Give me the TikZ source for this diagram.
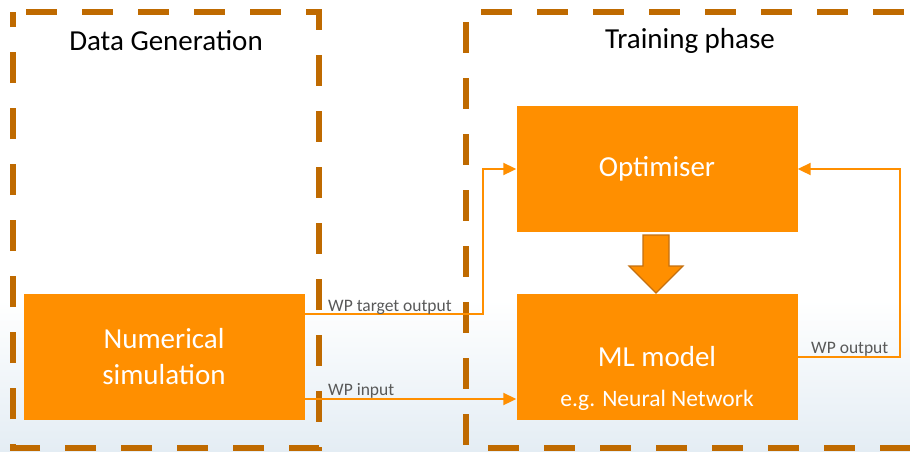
\documentclass[tikz,border=0pt]{standalone}
\usepackage{fontspec}
\setmainfont{Carlito}
\usetikzlibrary{arrows.meta}
\definecolor{boxorange}{RGB}{255,143,0}
\definecolor{dashbrown}{RGB}{191,106,0}
\definecolor{labelgray}{RGB}{89,89,89}
\definecolor{arrowdark}{RGB}{196,112,16}
\definecolor{bgblue}{RGB}{228,237,244}
\tikzset{
  region/.style={draw=dashbrown, line width=6.5pt, dash pattern=on 31pt off 25pt},
  block/.style={fill=boxorange, draw=none, minimum width=281pt, minimum height=126pt, inner sep=0pt, text=white, align=center},
  flow/.style={draw=boxorange, line width=2pt, -{Triangle[length=13pt,width=12pt]}},
  wplabel/.style={text=labelgray, font=\fontsize{17.5}{20}\selectfont, inner sep=1pt},
  title/.style={font=\fontsize{29}{34}\selectfont, text=black}
}
\begin{document}
\begin{tikzpicture}[x=1pt,y=-1pt]
\useasboundingbox (0,0) rectangle (910,451);
% faint background
\shade[top color=white, bottom color=bgblue, draw=none] (0,300) rectangle (910,451);
% dashed regions
\draw[region, dash phase=43pt] (13,12) -- (319,12) -- (319,448) -- (13,448) -- cycle;
\draw[region, dash phase=41pt] (466,12) -- (935,12);
\draw[region, dash phase=46pt] (466,12) -- (466,448) -- (935,448);
% titles
\node[title] (tdata) at (166,41) {Data Generation};
\node[title] (ttrain) at (690,41) {Training phase};
% blocks
\node[block, font=\fontsize{29}{36}\selectfont] (sim) at (164,357) {Numerical\\simulation};
\node[block, font=\fontsize{29}{34}\selectfont] (opt) at (657,169) {Optimiser};
\node[block] (ml) at (657,357) {};
\node[text=white, font=\fontsize{29}{34}\selectfont] (mltxt) at (657,357) {ML model};
\node[text=white, font=\fontsize{23.5}{28}\selectfont] (mlsub) at (657,400) {e.g. Neural Network};
% block arrow
\filldraw[fill=boxorange, draw=arrowdark, line width=1.2pt, line join=miter]
  (643,235) -- (669,235) -- (669,266) -- (683,266) -- (656,293) -- (629,266) -- (643,266) -- cycle;
% connectors
\coordinate (c1) at (483,314);
\coordinate (c2) at (483,169);
\draw[flow] (sim.east |- c1) -- (c1) -- (c2) -- (opt.west |- c2);
\draw[flow] (sim.east |- 0,399) -- (ml.west |- 0,399);
\coordinate (c3) at (900,357);
\coordinate (c4) at (900,169);
\draw[flow] (ml.east |- c3) -- (c3) -- (c4) -- (opt.east |- c4);
% labels
\node[wplabel, anchor=base west] (l1) at (327,311) {WP target output};
\node[wplabel, anchor=base west] (l2) at (327,395) {WP input};
\node[wplabel, anchor=base west] (l3) at (810,353) {WP output};
\end{tikzpicture}
\end{document}
